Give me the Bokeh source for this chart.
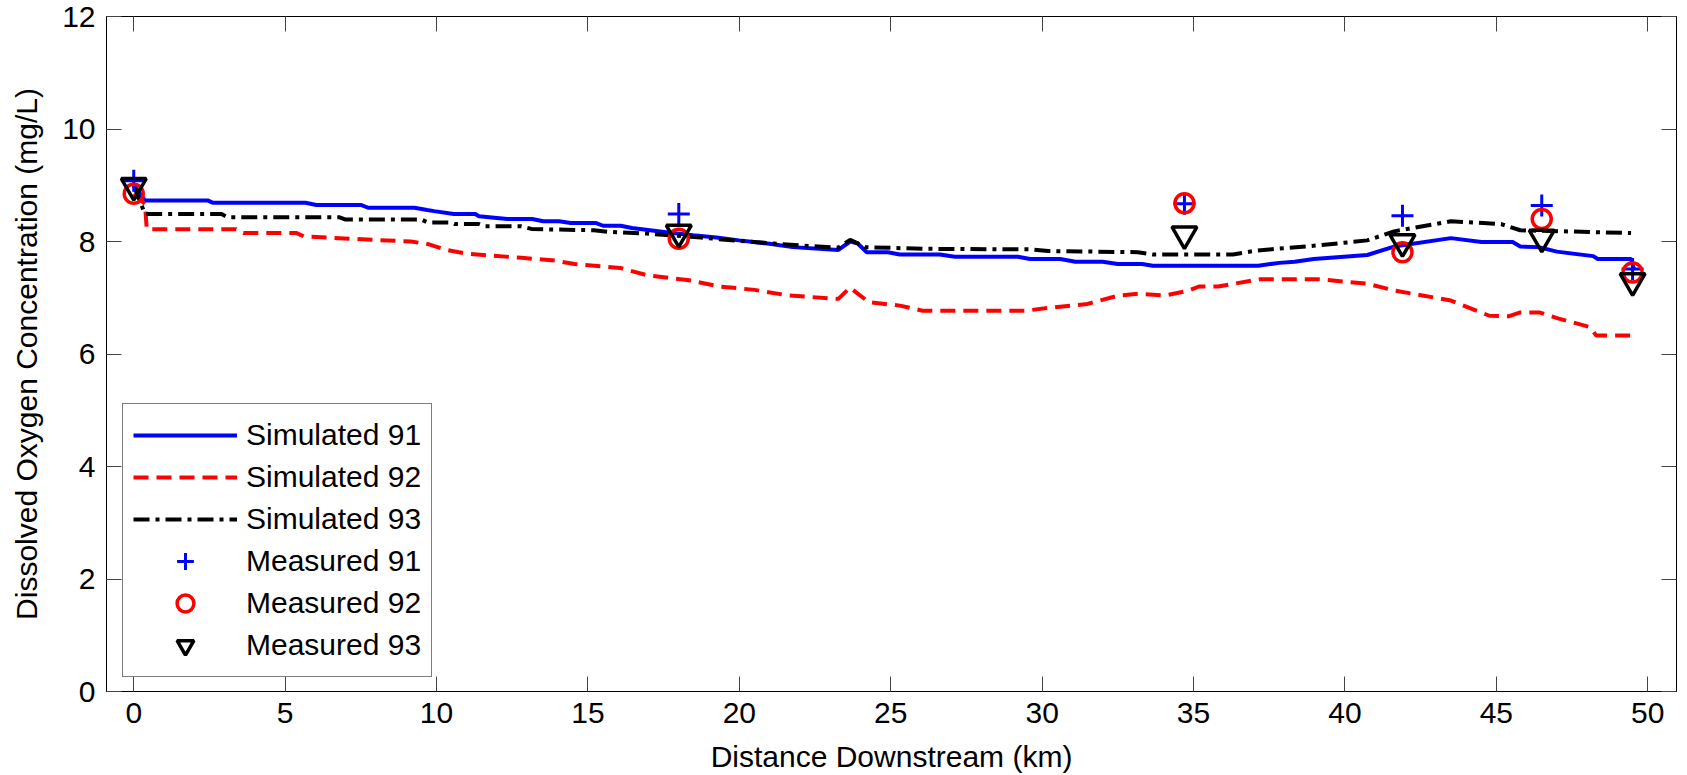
from bokeh.plotting import figure
from bokeh.models import Range1d, LinearAxis, Legend, LegendItem, FixedTicker
from bokeh.embed import file_html
from bokeh.resources import INLINE

# ---- data ----
x_ticks = [0, 5, 10, 15, 20, 25, 30, 35, 40, 45, 50]
y_ticks = [0, 2, 4, 6, 8, 10, 12]

sim91_x = [0, 0.37, 2.44, 2.6, 5.67, 6.03, 7.5, 7.74, 9.27, 9.69, 9.92, 10.57, 11.28, 11.4,
           12.34, 13.16, 13.52, 14.05, 14.43, 15.25, 15.5, 16.08, 16.45, 17.65, 18.47, 19.24,
           19.99, 21.0, 21.76, 23.27, 23.66, 23.9, 24.21, 24.9, 25.3, 26.62, 27.12, 29.2, 29.6,
           30.6, 31.1, 32.0, 32.5, 33.3, 33.65, 37.14, 37.83, 38.34, 38.97, 40.74, 41.62, 43.5,
           44.51, 45.54, 45.79, 46.4, 47.0, 48.2, 48.35, 49.45, 49.55]
sim91_y = [9.0, 8.73, 8.73, 8.69, 8.69, 8.65, 8.65, 8.60, 8.60, 8.56, 8.54, 8.49, 8.49, 8.45,
           8.40, 8.40, 8.36, 8.36, 8.33, 8.33, 8.28, 8.28, 8.24, 8.16, 8.11, 8.07,
           8.02, 7.96, 7.90, 7.85, 8.0, 7.97, 7.81, 7.81, 7.77, 7.77, 7.73, 7.73, 7.69,
           7.69, 7.64, 7.64, 7.60, 7.60, 7.57, 7.57, 7.62, 7.64, 7.69, 7.76, 7.91, 8.06,
           7.99, 7.99, 7.91, 7.90, 7.82, 7.74, 7.69, 7.69, 7.5]

sim92_x = [0, 0.37, 0.43, 3.38, 3.62, 5.38, 5.62, 7.86, 9.16, 9.75, 10.33, 11.04, 12.81, 13.92,
           14.56, 16.07, 16.95, 18.34, 19.36, 20.5, 21.63, 23.27, 23.65, 24.28, 25.3, 26.05,
           29.46, 30.2, 31.5, 32.53, 33.16, 34.04, 34.8, 35.18, 35.81, 37.2, 39.1, 40.74, 41.62,
           43.5, 44.77, 45.4, 45.79, 46.42, 47.06, 48.08, 48.3, 49.5]
sim92_y = [8.85, 8.67, 8.22, 8.22, 8.15, 8.15, 8.09, 8.03, 8.0, 7.95, 7.85, 7.78, 7.71, 7.66,
           7.60, 7.53, 7.40, 7.31, 7.20, 7.14, 7.04, 6.98, 7.18, 6.92, 6.86, 6.77,
           6.77, 6.82, 6.89, 7.04, 7.07, 7.04, 7.12, 7.20, 7.20, 7.33, 7.33, 7.25, 7.13,
           6.95, 6.68, 6.67, 6.74, 6.74, 6.63, 6.48, 6.33, 6.33]

sim93_x = [0, 0.37, 2.9, 3.1, 6.8, 7.0, 9.5, 9.7, 10.45, 10.6, 11.4, 11.6, 12.8, 13.16, 15.2,
           15.7, 16.95, 17.7, 18.73, 20.0, 22.0, 23.27, 23.66, 24.16, 26.05, 29.6, 30.2, 33.16,
           33.65, 36.3, 37.08, 39.1, 40.74, 41.62, 43.5, 45.16, 45.79, 49.45]
sim93_y = [9.0, 8.49, 8.49, 8.43, 8.43, 8.39, 8.39, 8.34, 8.34, 8.31, 8.31, 8.27, 8.27, 8.22, 8.20,
           8.17, 8.14, 8.11, 8.07, 8.01, 7.93, 7.89, 8.03, 7.90, 7.87, 7.86, 7.83, 7.81,
           7.77, 7.77, 7.84, 7.93, 8.02, 8.18, 8.36, 8.31, 8.20, 8.15]

meas_x = [0, 18, 34.7, 41.9, 46.5, 49.5]
meas91 = [9.08, 8.49, 8.67, 8.46, 8.64, 7.51]
meas92 = [8.85, 8.05, 8.68, 7.81, 8.40, 7.45]
meas93 = [8.99, 8.16, 8.13, 7.99, 8.07, 7.30]

x_title = "Distance Downstream (km)"
y_title = "Dissolved Oxygen Concentration (mg/L)"

FONT = "Liberation Sans"
FS = "30px"

p = figure(width=1687, height=775, output_backend="svg", toolbar_location=None,
           x_range=Range1d(-0.9, 50.95), y_range=Range1d(0, 12),
           min_border_left=106, min_border_right=11, min_border_top=16, min_border_bottom=84)
p.xgrid.visible = False
p.ygrid.visible = False
p.outline_line_color = "black"
p.outline_line_width = 1
p.background_fill_color = "white"
p.border_fill_color = "white"

for ax, ticks in ((p.xaxis[0], x_ticks), (p.yaxis[0], y_ticks)):
    ax.ticker = FixedTicker(ticks=ticks)
    ax.major_tick_in = 15
    ax.major_tick_out = 0
    ax.major_tick_line_color = "#444444"
    ax.minor_tick_line_color = None
    ax.axis_line_color = "black"
    ax.major_label_text_font = FONT
    ax.major_label_text_font_size = FS
    ax.major_label_text_color = "black"
    ax.axis_label_text_font = FONT
    ax.axis_label_text_font_size = FS
    ax.axis_label_text_font_style = "normal"
    ax.axis_label_text_color = "black"
    ax.major_label_standoff = 11

p.xaxis.axis_label = x_title
p.yaxis.axis_label = y_title
p.xaxis.axis_label_standoff = 14
p.yaxis.axis_label_standoff = 16

for loc, ticks in (("right", y_ticks), ("above", x_ticks)):
    a = LinearAxis(ticker=FixedTicker(ticks=ticks),
                   major_label_overrides={t: "" for t in ticks},
                   major_label_text_font_size="1px",
                   major_tick_in=15, major_tick_out=0, major_label_standoff=0,
                   minor_tick_line_color=None, major_tick_line_color="#444444",
                   axis_line_color="black")
    p.add_layout(a, loc)

r1 = p.line(sim91_x, sim91_y, line_color="blue", line_width=4)
r2 = p.line(sim92_x, sim92_y, line_color="red", line_width=4, line_dash="15 8")
r3 = p.line(sim93_x, sim93_y, line_color="black", line_width=4, line_dash="16 6 4 6")
r4 = p.scatter(meas_x, meas91, marker="cross", size=22, line_color="blue", line_width=3)
r5 = p.scatter(meas_x, meas92, marker="circle", size=19, fill_color=None,
               line_color="red", line_width=3.5)
r6 = p.scatter(meas_x, meas93, marker="inverted_triangle", size=25, fill_color=None,
               line_color="black", line_width=3.5)

legend = Legend(items=[
    LegendItem(label="Simulated 91", renderers=[r1]),
    LegendItem(label="Simulated 92", renderers=[r2]),
    LegendItem(label="Simulated 93", renderers=[r3]),
    LegendItem(label="Measured 91", renderers=[r4]),
    LegendItem(label="Measured 92", renderers=[r5]),
    LegendItem(label="Measured 93", renderers=[r6]),
], location=(16, 14))
legend.label_text_font = FONT
legend.label_text_font_size = FS
legend.label_text_color = "black"
legend.glyph_width = 104
legend.glyph_height = 42
legend.label_height = 42
legend.spacing = 0
legend.padding = 10
legend.margin = 0
legend.label_standoff = 9
legend.border_line_color = "black"
legend.border_line_width = 1
legend.background_fill_color = "white"
legend.background_fill_alpha = 1
p.add_layout(legend)

open("out.html", "w").write(file_html(p, INLINE))
